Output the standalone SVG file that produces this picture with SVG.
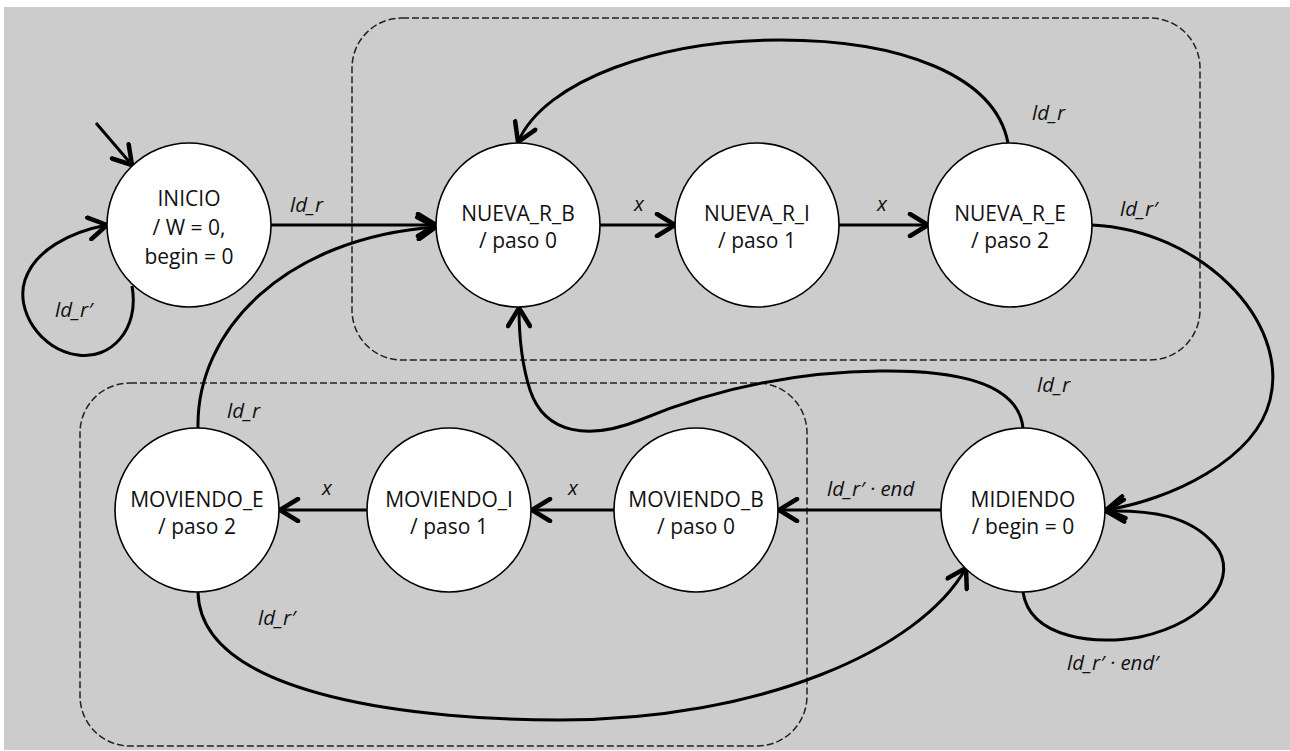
<svg xmlns="http://www.w3.org/2000/svg" width="1290" height="751" viewBox="0 0 1290 751">
  <style>
    .state { fill: #ffffff; stroke: #000000; stroke-width: 1.6; }
    .name { font-family: "Open Sans", "Liberation Sans", sans-serif; font-size: 21px; fill: #111111; text-anchor: middle; }
    .edge { fill: none; stroke: #000000; stroke-width: 3; marker-end: url(#head); }
    .lbl { font-family: "Open Sans", "Liberation Sans", sans-serif; font-size: 20.5px; font-style: italic; fill: #111111; }
    .group { fill: none; stroke: #222222; stroke-width: 1.5; stroke-dasharray: 7 3; }
  </style>
  <defs>
    <marker id="head" markerUnits="userSpaceOnUse" viewBox="0 0 24 26" markerWidth="24" markerHeight="26" refX="21" refY="13" orient="auto">
      <path d="M3,2 L21,13 L3,24" fill="none" stroke="#000000" stroke-width="4.5" stroke-linecap="round" stroke-linejoin="round"/>
    </marker>
  </defs>

  <!-- background -->
  <rect x="0" y="0" width="1290" height="751" fill="#ffffff"/>
  <rect x="4" y="7" width="1286" height="743" fill="#cccccc"/>

  <!-- dashed groupings -->
  <rect class="group" x="352" y="18" width="848" height="342" rx="50" ry="50"/>
  <rect class="group" x="80" y="383" width="727" height="363" rx="50" ry="50"/>

  <!-- transitions -->
  <g id="connectors">
    <path class="edge" d="M96,123 L132,165"/>
    <path class="edge" d="M132,286 C140,330 110,360 78,355 C40,350 15,310 25,280 C35,250 70,232 107,225"/>
    <path class="edge" d="M271,225 L436,225"/>
    <path class="edge" d="M198,428 C196,330 285,238 436,227"/>
    <path class="edge" d="M600,225 L675,225"/>
    <path class="edge" d="M839,225 L928,225"/>
    <path class="edge" d="M1008,143 C995,75 900,40 780,40 C660,40 545,80 518,142"/>
    <path class="edge" d="M1092,225 C1200,230 1290,320 1270,400 C1255,460 1170,500 1106,510"/>
    <path class="edge" d="M1023,428 C1018,380 950,370 880,371 C780,372 700,395 640,420 C590,440 545,435 530,390 C522,365 519,335 519,308"/>
    <path class="edge" d="M941,510 L779,510"/>
    <path class="edge" d="M614,510 L532,510"/>
    <path class="edge" d="M367,510 L280,510"/>
    <path class="edge" d="M198,592 C200,700 430,720 560,720 C760,720 920,650 966,568"/>
    <path class="edge" d="M1023,592 C1030,640 1100,645 1140,637 C1210,622 1240,575 1215,545 C1190,515 1150,510 1106,511"/>
  </g>

  <!-- transition conditions -->
  <g id="conditions">
    <text class="lbl" x="55" y="317">ld_r′</text>
    <text class="lbl" x="290" y="212">ld_r</text>
    <text class="lbl" x="634" y="211">x</text>
    <text class="lbl" x="877" y="211">x</text>
    <text class="lbl" x="1032" y="120">ld_r</text>
    <text class="lbl" x="1120" y="216">ld_r′</text>
    <text class="lbl" x="227" y="418">ld_r</text>
    <text class="lbl" x="1037" y="392">ld_r</text>
    <text class="lbl" x="827" y="496">ld_r′ · end</text>
    <text class="lbl" x="568" y="495">x</text>
    <text class="lbl" x="322" y="495">x</text>
    <text class="lbl" x="258" y="625">ld_r′</text>
    <text class="lbl" x="1067" y="670">ld_r′ · end′</text>
  </g>

  <!-- states -->
  <g id="inicio">
    <circle class="state" cx="189" cy="225" r="82"/>
    <text class="name" x="189" y="206">INICIO</text>
    <text class="name" x="189" y="235">/ W = 0,</text>
    <text class="name" x="189" y="264">begin = 0</text>
  </g>
  <g id="nueva_r_b">
    <circle class="state" cx="518" cy="225" r="82"/>
    <text class="name" x="518" y="221">NUEVA_R_B</text>
    <text class="name" x="518" y="248">/ paso 0</text>
  </g>
  <g id="nueva_r_i">
    <circle class="state" cx="757" cy="225" r="82"/>
    <text class="name" x="757" y="221">NUEVA_R_I</text>
    <text class="name" x="757" y="248">/ paso 1</text>
  </g>
  <g id="nueva_r_e">
    <circle class="state" cx="1010" cy="225" r="82"/>
    <text class="name" x="1010" y="221">NUEVA_R_E</text>
    <text class="name" x="1010" y="248">/ paso 2</text>
  </g>
  <g id="moviendo_e">
    <circle class="state" cx="197" cy="510" r="82"/>
    <text class="name" x="197" y="507">MOVIENDO_E</text>
    <text class="name" x="197" y="534">/ paso 2</text>
  </g>
  <g id="moviendo_i">
    <circle class="state" cx="449" cy="510" r="82"/>
    <text class="name" x="449" y="507">MOVIENDO_I</text>
    <text class="name" x="449" y="534">/ paso 1</text>
  </g>
  <g id="moviendo_b">
    <circle class="state" cx="696" cy="510" r="82"/>
    <text class="name" x="696" y="507">MOVIENDO_B</text>
    <text class="name" x="696" y="534">/ paso 0</text>
  </g>
  <g id="midiendo">
    <circle class="state" cx="1023" cy="510" r="82"/>
    <text class="name" x="1023" y="507">MIDIENDO</text>
    <text class="name" x="1023" y="534">/ begin = 0</text>
  </g>
</svg>
